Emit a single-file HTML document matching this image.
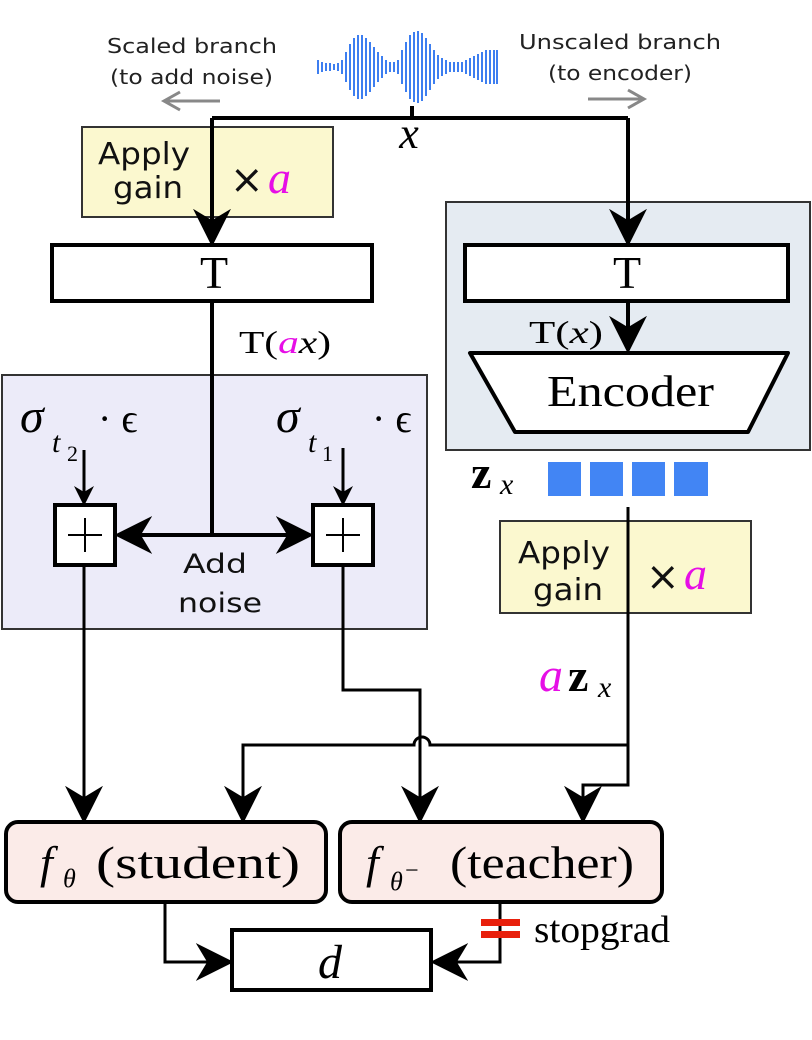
<!DOCTYPE html>
<html><head><meta charset="utf-8"><style>
html,body{margin:0;padding:0;background:#fff;width:812px;height:1040px;overflow:hidden}
svg{display:block}
.s{font-family:"DejaVu Sans","Liberation Sans",sans-serif}
.m{font-family:"Liberation Serif",serif}
</style></head><body>
<svg width="812" height="1040" viewBox="0 0 812 1040" xmlns="http://www.w3.org/2000/svg">
<defs>
<marker id="ah" viewBox="0 0 20 20" refX="18" refY="10" markerWidth="20" markerHeight="22" markerUnits="userSpaceOnUse" orient="auto">
<path d="M0,0 L20,10 L0,20 L6,10 Z" fill="#000"/></marker>
<marker id="ahb" viewBox="0 0 20 20" refX="18" refY="10" markerWidth="38" markerHeight="40" markerUnits="userSpaceOnUse" orient="auto">
<path d="M0,0 L20,10 L0,20 L6,10 Z" fill="#000"/></marker>
</defs>
<!-- top labels -->
<text class="s" x="107" y="53" font-size="20" textLength="170" lengthAdjust="spacingAndGlyphs" fill="#222">Scaled branch</text>
<text class="s" x="110" y="84" font-size="20" textLength="163" lengthAdjust="spacingAndGlyphs" fill="#222">(to add noise)</text>
<text class="s" x="519" y="49" font-size="20" textLength="202" lengthAdjust="spacingAndGlyphs" fill="#222">Unscaled branch</text>
<text class="s" x="548" y="80" font-size="20" textLength="144" lengthAdjust="spacingAndGlyphs" fill="#222">(to encoder)</text>
<g stroke="#888" stroke-width="3" fill="none"><path d="M220,101 H164 M180,92 L164,101 L180,110"/><path d="M588,99 H644 M628,90 L644,99 L628,108"/></g>
<!-- waveform -->
<g stroke="#3d7ef0" stroke-width="2">
<path d="M318,60V74M322,62V72M326,63V71M330,63V71M334,64V70M338,63V71M342,60V74M346,52V82M350,44V90M354,38V96M358,35V99M362,35V99M366,38V96M370,42V92M374,47V87M378,52V82M382,56V78M386,60V74M390,62V72M394,62V72M398,60V74M402,50V84M406,42V92M410,35V99M414,32V102M418,31V103M422,33V101M426,38V96M430,44V90M434,50V84M438,55V79M442,58V76M446,60V74M450,62V72M454,62V72M458,62V72M462,62V72M466,60V74M470,58V76M474,56V78M478,54V80M482,52V82M486,50V84M490,50V84M494,50V84M497,50V84"/>
</g>
<!-- panels -->
<rect x="446" y="202" width="364" height="248" fill="#e5ebf2" stroke="#333" stroke-width="2"/>
<rect x="2" y="375" width="425" height="254" fill="#ecebf9" stroke="#333" stroke-width="2"/>
<rect x="82" y="127" width="251" height="90" fill="#fbf8cf" stroke="#333" stroke-width="2"/>
<rect x="500" y="521" width="251" height="92" fill="#fbf8cf" stroke="#333" stroke-width="2"/>
<text class="s" x="98" y="164" font-size="30" textLength="92" lengthAdjust="spacingAndGlyphs" fill="#111">Apply</text>
<text class="s" x="113" y="198" font-size="30" textLength="70" lengthAdjust="spacingAndGlyphs" fill="#111">gain</text>
<text class="s" x="230" y="193" font-size="40" fill="#111">×</text>
<text class="m" x="268" y="193" font-size="46" font-style="italic" fill="#e60ee6">a</text>
<text class="s" x="518" y="563" font-size="30" textLength="92" lengthAdjust="spacingAndGlyphs" fill="#111">Apply</text>
<text class="s" x="533" y="600" font-size="30" textLength="70" lengthAdjust="spacingAndGlyphs" fill="#111">gain</text>
<text class="s" x="646" y="590" font-size="40" fill="#111">×</text>
<text class="m" x="684" y="589" font-size="46" font-style="italic" fill="#e60ee6">a</text>
<!-- top connector -->
<g stroke="#000" stroke-width="4" fill="none">
<path d="M412,106V118"/>
<path d="M212,118H628"/>
<path d="M212,118V243" marker-end="url(#ahb)"/>
<path d="M628,118V243" marker-end="url(#ahb)"/>
</g>
<text class="m" x="409" y="148" font-size="44" font-style="italic" text-anchor="middle">x</text>
<!-- T boxes -->
<rect x="52" y="245" width="320" height="56" fill="#fff" stroke="#000" stroke-width="4"/>
<rect x="465" y="245" width="323" height="56" fill="#fff" stroke="#000" stroke-width="4"/>
<text class="m" x="214" y="288" font-size="46" text-anchor="middle">T</text>
<text class="m" x="627" y="288" font-size="46" text-anchor="middle">T</text>
<g stroke="#000" stroke-width="4" fill="none"><path d="M628,301V350" marker-end="url(#ahb)"/></g>
<text class="m" x="529" y="343" font-size="32" textLength="74" lengthAdjust="spacingAndGlyphs">T(<tspan font-style="italic">x</tspan>)</text>
<path d="M470,353 H788 L748,432 H515 Z" fill="#fff" stroke="#000" stroke-width="4" stroke-linejoin="round"/>
<text class="m" x="547" y="406" font-size="44" textLength="167" lengthAdjust="spacingAndGlyphs">Encoder</text>
<text class="m" x="239" y="353" font-size="32" textLength="92" lengthAdjust="spacingAndGlyphs">T(<tspan font-style="italic" fill="#e60ee6">a</tspan><tspan font-style="italic">x</tspan>)</text>
<!-- noise section -->
<text class="m" x="20" y="432" font-size="48" font-style="italic">σ</text>
<text class="m" x="52" y="452" font-size="30" font-style="italic">t</text>
<text class="m" x="67" y="461" font-size="22">2</text>
<text class="m" x="98" y="432" font-size="40">· ϵ</text>
<text class="m" x="276" y="432" font-size="48" font-style="italic">σ</text>
<text class="m" x="308" y="452" font-size="30" font-style="italic">t</text>
<text class="m" x="322" y="461" font-size="22">1</text>
<text class="m" x="372" y="432" font-size="40">· ϵ</text>
<g stroke="#000" stroke-width="3" fill="none">
<path d="M84,450V504" marker-end="url(#ah)"/>
<path d="M343,448V504" marker-end="url(#ah)"/>
</g>
<g stroke="#000" stroke-width="4" fill="none">
<path d="M212,301V535"/>
<path d="M212,535H118" marker-end="url(#ahb)"/>
<path d="M212,535H310" marker-end="url(#ahb)"/>
</g>
<rect x="55" y="505" width="60" height="60" fill="#fff" stroke="#000" stroke-width="4"/>
<rect x="313" y="505" width="60" height="60" fill="#fff" stroke="#000" stroke-width="4"/>
<g stroke="#000" stroke-width="2"><path d="M68,535H102M85,518V552M326,535H360M343,518V552"/></g>
<text class="s" x="183" y="573" font-size="27" textLength="64" lengthAdjust="spacingAndGlyphs" fill="#111">Add</text>
<text class="s" x="178" y="612" font-size="27" textLength="84" lengthAdjust="spacingAndGlyphs" fill="#111">noise</text>
<!-- z_x -->
<text class="m" x="471" y="488" font-size="46" font-weight="bold">z</text>
<text class="m" x="500" y="494" font-size="30" font-style="italic">x</text>
<g fill="#4285f4"><rect x="548" y="462" width="33" height="34"/><rect x="590" y="462" width="33" height="34"/><rect x="632" y="462" width="33" height="34"/><rect x="674" y="462" width="34" height="34"/></g>
<text class="m" x="539" y="691" font-size="48" font-style="italic" fill="#e60ee6">a</text>
<text class="m" x="568" y="691" font-size="46" font-weight="bold">z</text>
<text class="m" x="598" y="697" font-size="30" font-style="italic">x</text>
<!-- lower connectors -->
<g stroke="#000" stroke-width="3" fill="none">
<path d="M628,507V785H583V820" marker-end="url(#ahb)"/>
<path d="M628,745H430 A8,8 0 0 0 414,745 H243V820" marker-end="url(#ahb)"/>
<path d="M84,565V820" marker-end="url(#ahb)"/>
<path d="M343,565V690H420V820" marker-end="url(#ahb)"/>
<path d="M165,902V962H230" marker-end="url(#ahb)"/>
<path d="M500,902V962H434" marker-end="url(#ahb)"/>
</g>
<!-- model boxes -->
<rect x="6" y="822" width="320" height="80" rx="12" fill="#fbebe8" stroke="#000" stroke-width="4"/>
<rect x="340" y="822" width="322" height="80" rx="12" fill="#fbebe8" stroke="#000" stroke-width="4"/>
<text class="m" x="40" y="878" font-size="46" font-style="italic">f</text>
<text class="m" x="63" y="887" font-size="26" font-style="italic">θ</text>
<text class="m" x="96" y="878" font-size="46" textLength="204" lengthAdjust="spacingAndGlyphs">(student)</text>
<text class="m" x="366" y="878" font-size="46" font-style="italic">f</text>
<text class="m" x="390" y="890" font-size="26" font-style="italic">θ</text>
<text class="m" x="405" y="878" font-size="24">−</text>
<text class="m" x="450" y="878" font-size="46" textLength="184" lengthAdjust="spacingAndGlyphs">(teacher)</text>
<rect x="232" y="930" width="199" height="60" fill="#fff" stroke="#000" stroke-width="4"/>
<text class="m" x="330" y="978" font-size="48" font-style="italic" text-anchor="middle">d</text>
<g fill="#e8200c"><rect x="481" y="919" width="39" height="7"/><rect x="481" y="931" width="39" height="7"/></g>
<text class="m" x="534" y="942" font-size="38" textLength="136" lengthAdjust="spacingAndGlyphs">stopgrad</text>
</svg>
</body></html>
